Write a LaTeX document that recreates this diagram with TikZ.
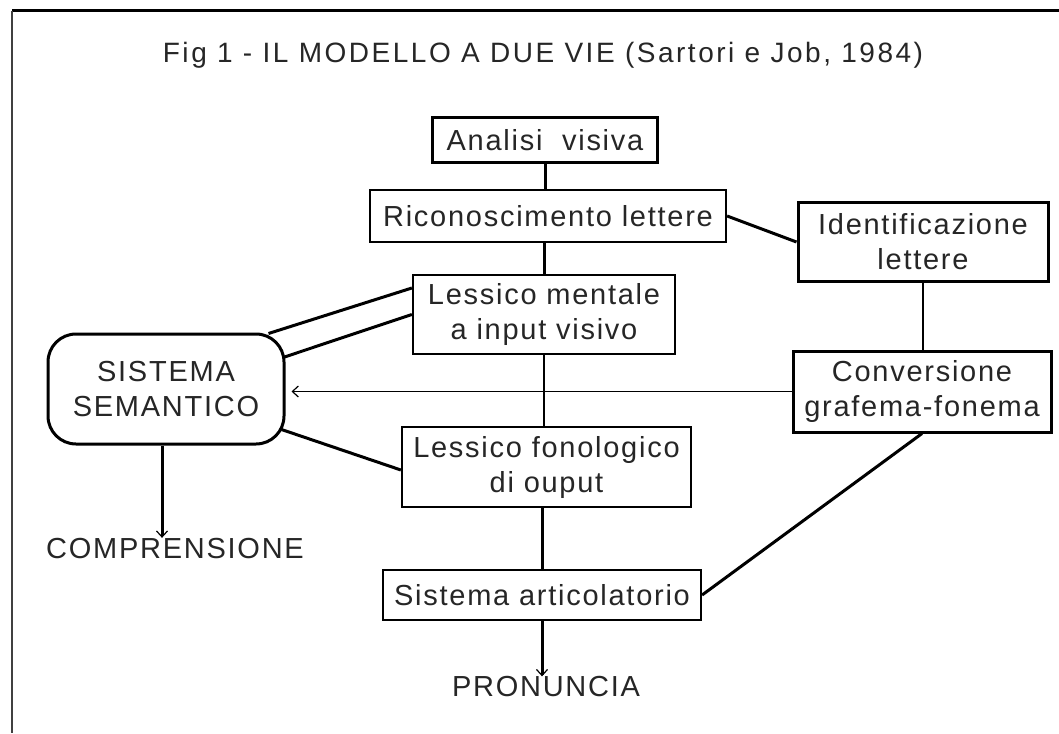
\documentclass[tikz,border=0pt]{standalone}
\usepackage{fontspec}
\setmainfont{Liberation Sans}[LetterSpace=6]
\usetikzlibrary{arrows.meta,calc}

\tikzset{
  box/.style={draw=black,line width=1.1pt,fill=white,inner sep=0pt,align=center,
    text=black!85,font=\fontsize{14.5}{17.5}\selectfont},
  label text/.style={inner sep=0pt,text=black!85,font=\fontsize{14.5}{17.5}\selectfont},
  heavy/.style={line width=1.5pt},
  light/.style={line width=0.6pt},
  barb/.style={-{Straight Barb[length=3pt,width=5.5pt,line width=0.6pt]}}
}

\begin{document}
\begin{tikzpicture}[x=0.5pt,y=-0.5pt]
  \useasboundingbox (0,0) rectangle (1059,733);
  \draw[line width=1.5pt] (12,11) -- (1059,11);
  \draw[line width=0.9pt,black!75] (12,11) -- (12,733);
  \node[label text,anchor=base,font=\fontsize{14}{17}\selectfont\addfontfeature{LetterSpace=9}] (title) at (543,63)
    {Fig 1 - IL MODELLO A DUE VIE (Sartori e Job, 1984)};

  \node[box,minimum width=112.5pt,minimum height=22.5pt] (ana) at (545,140) {Analisi\ \ visiva};
  \node[box,minimum width=178pt,minimum height=26pt] (ric) at (548,216) {Riconoscimento lettere};
  \node[box,line width=1.5pt,minimum width=125pt,minimum height=39.5pt] (ide) at (923,242) {Identificazione\\lettere};
  \node[box,minimum width=131pt,minimum height=39.5pt] (lmv) at (544,314.5) {Lessico mentale\\a input visivo};
  \node[box,line width=1.5pt,minimum width=129pt,minimum height=40.5pt] (conv) at (922,391.5) {Conversione\\grafema-fonema};
  \node[box,minimum width=144.5pt,minimum height=40pt] (lfo) at (546.5,467) {Lessico fonologico\\di ouput};
  \node[box,minimum width=159pt,minimum height=25pt] (sar) at (542,595) {Sistema articolatorio};
  \node[box,line width=1.5pt,rounded corners=14pt,minimum width=118pt,minimum height=55pt] (sem) at (166,389) {SISTEMA\\SEMANTICO};
  \node[label text] (comp) at (175,548.5) {COMPRENSIONE};
  \node[label text] (pro) at (546,687) {PRONUNCIA};

  \draw[heavy] (ana.south) -- (ana.south |- ric.north);
  \draw[heavy] (lmv.north |- ric.south) -- (lmv.north);
  \draw[light] (lmv.south) -- (lmv.south |- lfo.north);
  \draw[heavy] (sar.north |- lfo.south) -- (sar.north);
  \draw[heavy,barb] (sar.south) -- (sar.south |- pro.north);
  \draw[heavy] (ric.east) -- (ide.west);
  \draw[light] (ide.south) -- (ide.south |- conv.north);
  \draw[heavy] (sar.east) -- (conv.south);
  \draw[light,barb,shorten >=3pt] (conv.west) -- (conv.west -| sem.east);
  \draw[heavy] ([yshift=13.25pt]lmv.west) -- ($(sem.north east)+(-17,1)$);
  \draw[heavy] (lmv.west) -- ($(sem.east)+(-1,-32)$);
  \draw[heavy] ($(sem.south east)+(-4,-16)$) -- ([yshift=-1.5pt]lfo.west);
  \draw[heavy,barb] ([xshift=-2pt]sem.south) -- ([xshift=-2pt]sem.south |- comp.north);
\end{tikzpicture}
\end{document}
